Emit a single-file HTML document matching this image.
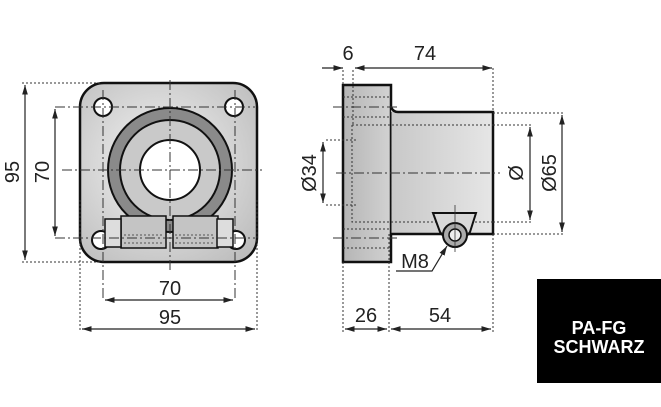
<!DOCTYPE html>
<html><head><meta charset="utf-8"><style>body{margin:0;background:#fff}svg{display:block}</style></head><body>
<svg width="661" height="407" viewBox="0 0 661 407" xmlns="http://www.w3.org/2000/svg" font-family="Liberation Sans, sans-serif">
<defs>
<radialGradient id="g1" cx="0.45" cy="0.45" r="0.7"><stop offset="0" stop-color="#f4f4f4"/><stop offset="1" stop-color="#bdbdbd"/></radialGradient>
<linearGradient id="g2" x1="0" x2="1"><stop offset="0" stop-color="#b5b5b5"/><stop offset="1" stop-color="#d2d2d2"/></linearGradient>
<linearGradient id="g3" x1="0" x2="1"><stop offset="0" stop-color="#c8c8c8"/><stop offset="1" stop-color="#e6e6e6"/></linearGradient>
<marker id="a" viewBox="0 0 10 10" refX="10" refY="5" markerWidth="8" markerHeight="8" orient="auto-start-reverse"><path d="M0,2 L10,5 L0,8 z" fill="#222"/></marker>
</defs>
<!-- FRONT VIEW -->
<rect x="80" y="83" width="177" height="179" rx="24" fill="url(#g1)" stroke="#111" stroke-width="2.5"/>
<g fill="#fff" stroke="#111" stroke-width="2">
<circle cx="103" cy="107" r="9"/><circle cx="234" cy="107" r="9"/><circle cx="101" cy="240" r="9"/><circle cx="236" cy="240" r="9"/>
</g>
<circle cx="170" cy="170" r="62" fill="#8a8a8a" stroke="#111" stroke-width="2"/>
<circle cx="170" cy="170" r="50" fill="#c9c9c9" stroke="#111" stroke-width="2"/>
<circle cx="170" cy="170" r="30" fill="#fff" stroke="#111" stroke-width="2"/>
<g stroke="#111" stroke-width="1.5" fill="#c4c4c4">
<rect x="121" y="216" width="45" height="32"/><rect x="173" y="216" width="45" height="32"/>
<rect x="105" y="219" width="16" height="28" fill="#ddd"/><rect x="217" y="219" width="16" height="28" fill="#ddd"/>
</g>
<g stroke="#555" stroke-width="1" stroke-dasharray="2,2"><line x1="124" y1="235" x2="164" y2="235"/><line x1="175" y1="235" x2="215" y2="235"/><line x1="124" y1="243" x2="164" y2="243"/><line x1="175" y1="243" x2="215" y2="243"/></g>
<g stroke="#333" stroke-width="1" stroke-dasharray="10,3,2,3" fill="none">
<line x1="170" y1="80" x2="170" y2="270"/><line x1="62" y1="170" x2="262" y2="170"/>
<line x1="55" y1="107" x2="255" y2="107"/><line x1="55" y1="238" x2="255" y2="238"/>
<line x1="103" y1="90" x2="103" y2="300"/><line x1="235" y1="90" x2="235" y2="300"/>
</g>
<g stroke="#333" stroke-width="1" stroke-dasharray="2,2" fill="none">
<line x1="22" y1="83" x2="100" y2="83"/><line x1="22" y1="262" x2="100" y2="262"/>
<line x1="80" y1="200" x2="80" y2="332"/><line x1="257" y1="200" x2="257" y2="332"/>
</g>
<g stroke="#222" stroke-width="1.2">
<line x1="25" y1="85" x2="25" y2="260" marker-start="url(#a)" marker-end="url(#a)"/>
<line x1="55" y1="109" x2="55" y2="236" marker-start="url(#a)" marker-end="url(#a)"/>
<line x1="105" y1="300" x2="233" y2="300" marker-start="url(#a)" marker-end="url(#a)"/>
<line x1="82" y1="329" x2="255" y2="329" marker-start="url(#a)" marker-end="url(#a)"/>
</g>
<g font-size="20" fill="#222" text-anchor="middle">
<text transform="translate(19,172) rotate(-90)">95</text>
<text transform="translate(49,172) rotate(-90)">70</text>
<text x="170" y="295">70</text>
<text x="170" y="324">95</text>
</g>
<!-- SIDE VIEW -->
<rect x="343" y="85" width="48" height="177" fill="url(#g2)" stroke="#111" stroke-width="2.5"/>
<path d="M391,107 Q393,112 398,112 L493,112 L493,234 L391,234" fill="url(#g3)" stroke="#111" stroke-width="2.5"/>
<line x1="391" y1="112" x2="391" y2="234" stroke="#111" stroke-width="1"/>
<g stroke="#333" stroke-width="1" stroke-dasharray="2,2" fill="none">
<path d="M352,125 L493,125 M352,125 L352,222 L493,222"/>
<line x1="343" y1="97" x2="391" y2="97"/><line x1="343" y1="117" x2="391" y2="117"/>
<line x1="343" y1="229" x2="391" y2="229"/><line x1="343" y1="248" x2="391" y2="248"/>
<line x1="326" y1="140" x2="357" y2="140"/><line x1="326" y1="205" x2="357" y2="205"/>
<line x1="493" y1="113" x2="565" y2="113"/><line x1="493" y1="234" x2="565" y2="234"/>
<line x1="493" y1="125" x2="532" y2="125"/><line x1="493" y1="222" x2="532" y2="222"/>
<line x1="343" y1="70" x2="343" y2="85"/><line x1="353" y1="70" x2="353" y2="125"/><line x1="493" y1="68" x2="493" y2="112"/>
<line x1="343" y1="262" x2="343" y2="332"/><line x1="389" y1="234" x2="389" y2="332"/><line x1="493" y1="234" x2="493" y2="332"/>
</g>
<g stroke="#333" stroke-width="1" stroke-dasharray="10,3,2,3"><line x1="336" y1="173" x2="500" y2="173"/><line x1="333" y1="107" x2="400" y2="107"/><line x1="333" y1="238" x2="400" y2="238"/></g>
<path d="M433,213 L476,213 L470,232 Q455,252 440,232 Z" fill="#d8d8d8" stroke="#111" stroke-width="2"/>
<circle cx="455" cy="235" r="12" fill="#aaa" stroke="#111" stroke-width="2"/>
<circle cx="455" cy="235" r="6" fill="#eee" stroke="#111" stroke-width="1.5"/>
<line x1="455" y1="205" x2="455" y2="252" stroke="#333" stroke-width="0.8"/>
<g stroke="#222" stroke-width="1.2">
<line x1="322" y1="68" x2="343" y2="68" marker-end="url(#a)"/>
<line x1="355" y1="68" x2="492" y2="68" marker-start="url(#a)" marker-end="url(#a)"/>
<line x1="323" y1="142" x2="323" y2="203" marker-start="url(#a)" marker-end="url(#a)"/>
<line x1="530" y1="127" x2="530" y2="220" marker-start="url(#a)" marker-end="url(#a)"/>
<line x1="562" y1="115" x2="562" y2="232" marker-start="url(#a)" marker-end="url(#a)"/>
<line x1="345" y1="329" x2="387" y2="329" marker-start="url(#a)" marker-end="url(#a)"/>
<line x1="391" y1="329" x2="491" y2="329" marker-start="url(#a)" marker-end="url(#a)"/>
<polyline points="396,271 432,271 447,246" fill="none" marker-end="url(#a)"/>
</g>
<g font-size="20" fill="#222" text-anchor="middle">
<text x="348" y="60">6</text>
<text x="425" y="60">74</text>
<text transform="translate(316,173) rotate(-90)">Ø34</text>
<text transform="translate(523,173) rotate(-90)">Ø</text>
<text transform="translate(556,173) rotate(-90)">Ø65</text>
<text x="366" y="322">26</text>
<text x="440" y="322">54</text>
<text x="415" y="268">M8</text>
</g>
<rect x="537" y="279" width="124" height="104" fill="#000"/>
<g font-size="18" font-weight="bold" fill="#fff" text-anchor="middle">
<text x="599" y="334">PA-FG</text>
<text x="599" y="353">SCHWARZ</text>
</g>
</svg>
</body></html>
